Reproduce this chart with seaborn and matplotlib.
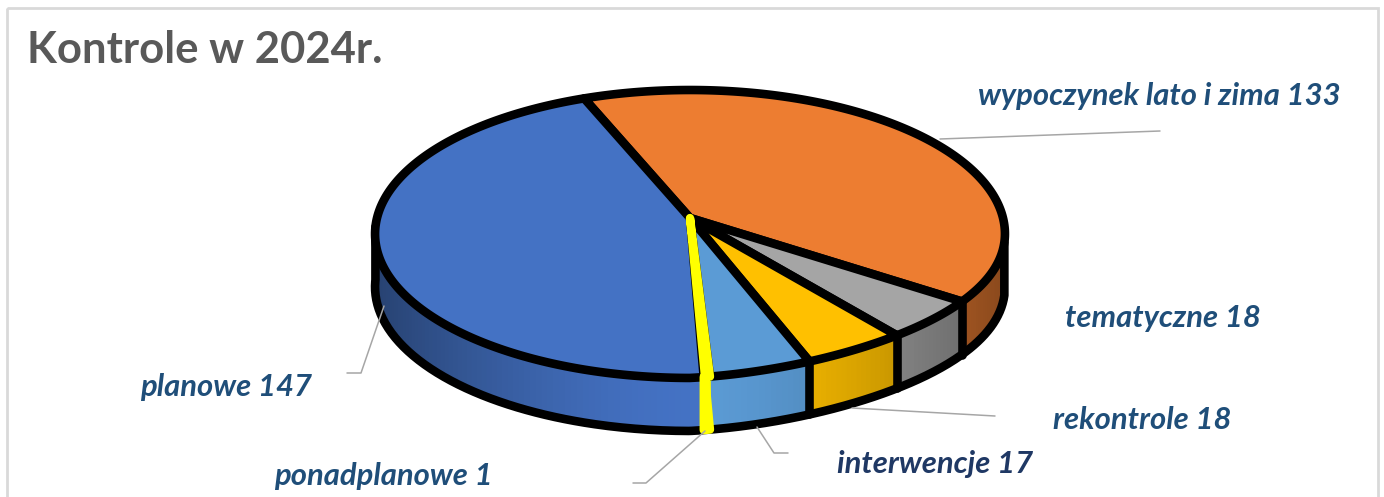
"""3D-look pie of inspections in 2024, drawn on a pixel-sized axes with seaborn styling."""
import numpy as np
import matplotlib
matplotlib.use("Agg")
import matplotlib.pyplot as plt
from matplotlib.patches import Rectangle
import seaborn as sns

categories = ["wypoczynek lato i zima", "tematyczne", "rekontrole", "interwencje", "ponadplanowe", "planowe"]
values = [133, 18, 18, 17, 1, 147]
slice_colors = ["#ED7D31", "#A5A5A5", "#FFC000", "#5B9BD5", "#FFFF00", "#4472C4"]

# label text anchors (left edge, baseline) and colours
label_x = [978, 1065, 1053, 837, 274, 140]
label_y = [105, 327, 429, 473, 485, 396]
label_colors = ["#1F4E79", "#1F4E79", "#1F4E79", "#1F3864", "#1F4E79", "#1F4E79"]

# leader lines
leaders = [
    ([940, 1160], [139, 131]),
    ([852, 995], [408, 416]),
    ([757, 774, 788], [427, 453, 453]),
    ([705, 646, 633], [431, 483, 483]),
    ([384, 361, 347], [306, 373, 373]),
]

# projection of the pie disc
CX, CY = 690, 218
RX, RY = 313, 142.2
K = 0.111
WALL = 53
START = 110.5
EDGE_LW = 6.2


def project(deg):
    """Circle angle in degrees to pixel position on the tilted disc."""
    # small angle warp, the slices in the picture bunch up towards the front
    warped = deg - 3.6 * np.sin(np.radians(2 * (deg + 58)))
    a = np.radians(warped)
    w = 1 + K * np.sin(a)
    sx = RX * np.cos(a) / w
    sy = RY * np.sin(a) / w
    # front right of the rim sits a bit flatter than a pure perspective circle
    squeeze = np.where((np.sin(a) < 0) & (np.cos(a) > 0), 1 - 0.06 * np.abs(np.sin(2 * a)), 1.0)
    return CX + sx, CY - sy * squeeze


def shade(color, x):
    """Side walls get darker away from the middle of the pie."""
    f = 1 - 0.42 * min(abs(x - CX) / 315, 1) ** 1.6
    return tuple(c * f for c in matplotlib.colors.to_rgb(color))


sns.set_theme(style="white")
plt.rcParams["font.family"] = ["Lato", "DejaVu Sans"]

fig, ax = plt.subplots(figsize=(13.84, 4.97), dpi=100)
fig.subplots_adjust(left=0, right=1, top=1, bottom=0)
ax.set_xlim(0, 1384)
ax.set_ylim(497, 0)
ax.axis("off")

palette = sns.color_palette(slice_colors)
sweep = np.array(values) / sum(values) * 360
ends = START - np.cumsum(sweep)
starts = ends + sweep

# chart frame, the bottom edge is cut off
ax.add_patch(Rectangle((7, 8), 1371, 520, fill=False, ec="#D9D9D9", lw=2, zorder=0))

# side walls, front part only
front_lo = -180 + np.degrees(np.arcsin(K))
front_hi = -np.degrees(np.arcsin(K))
for s, e, col in zip(starts, ends, palette):
    # angles wrap, so test the same range one turn down as well
    for shift in (0, -360):
        hi = min(s + shift, front_hi)
        lo = max(e + shift, front_lo)
        if hi <= lo:
            continue
        angs = np.linspace(hi, lo, max(int(hi - lo), 2))
        for a0, a1 in zip(angs[:-1], angs[1:]):
            x0, y0 = project(a0)
            x1, y1 = project(a1)
            c = shade(col, (x0 + x1) / 2)
            ax.fill([x0, x1, x1, x0], [y0, y1, y1 + WALL, y0 + WALL], color=c, lw=1.2, zorder=1)

# outer outline of the wall
angs = np.linspace(front_hi, front_lo, 300)
px, py = project(angs)
ox = np.r_[px[0], px, px[-1]]
oy = np.r_[py[0], py + WALL, py[-1]]
ax.plot(ox, oy, color="black", lw=EDGE_LW, solid_joinstyle="round", zorder=2)

# separators on the wall
for e in ends[:3]:
    x, y = project(e)
    ax.plot([x, x], [y, y + WALL], color="black", lw=EDGE_LW, zorder=2)

# top faces
for i, (s, e, col) in enumerate(zip(starts, ends, palette)):
    if i == 4:
        continue
    rx, ry = project(np.linspace(s, e, 200))
    ax.fill(np.r_[CX, rx], np.r_[CY, ry], facecolor=col, edgecolor="black", lw=EDGE_LW,
            joinstyle="round", zorder=3)

# the single yellow slice goes over everything
rx, ry = project(np.linspace(starts[4], ends[4], 6))
ax.fill(np.r_[CX, rx, rx[::-1]], np.r_[CY, ry, ry[::-1] + WALL], facecolor=palette[4],
        edgecolor=palette[4], lw=6, joinstyle="round", zorder=4)

for (lx, ly) in leaders:
    ax.plot(lx, ly, color="#A6A6A6", lw=1.1, zorder=5)

ax.text(27, 63, "Kontrole w 2024r.", fontsize=31.4, fontweight="bold", color="#595959",
        ha="left", va="baseline")

clip = Rectangle((0, 0), 1384, 487.5, transform=ax.transData)
for name, val, x, y, c in zip(categories, values, label_x, label_y, label_colors):
    t = ax.text(x, y, f"{name} {val}", fontsize=22.3, fontweight="bold", fontstyle="italic",
                color=c, ha="left", va="baseline")
    t.set_clip_path(clip)

fig.savefig("out.png", dpi=100)
